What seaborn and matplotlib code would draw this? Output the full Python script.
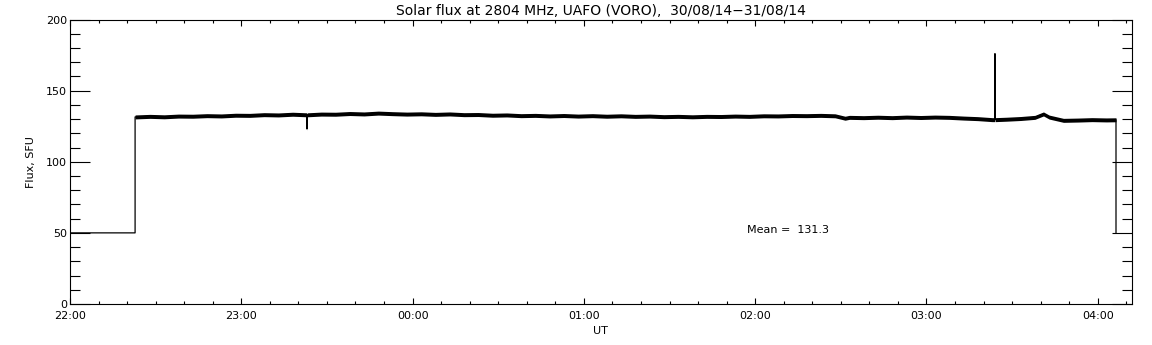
import matplotlib
matplotlib.use("Agg")
import matplotlib.pyplot as plt
from matplotlib.ticker import MultipleLocator, FixedLocator
import pandas as pd
import seaborn as sns

# minutes after 22:00 UT and flux (SFU)
minutes = [0, 22.8, 22.8, 28, 33, 38, 43, 48, 53, 58, 63, 68, 73, 78, 82.9, 83, 83.1,
           88, 93, 98, 103, 108, 113, 118, 123, 128, 133, 138, 143, 148, 153, 158,
           163, 168, 173, 178, 183, 188, 193, 198, 203, 208, 213, 218, 223, 228,
           233, 238, 243, 248, 253, 258, 263, 268, 271.5, 273, 278, 283, 288, 293,
           298, 303, 308, 313, 318, 323, 323.9, 324, 324.1, 328, 333, 338, 341, 343,
           348, 353, 358, 363, 366.4, 366.4]
flux = [50, 50, 131.5, 131.9, 131.6, 132.1, 132.0, 132.4, 132.2, 132.7, 132.6, 133.1,
        132.9, 133.4, 133.0, 123.0, 133.0, 133.5, 133.4, 133.9, 133.6, 134.2, 133.8,
        133.5, 133.7, 133.3, 133.6, 133.1, 133.2, 132.7, 132.9, 132.4, 132.6, 132.2,
        132.5, 132.1, 132.4, 132.0, 132.3, 131.9, 132.1, 131.7, 131.9, 131.6, 131.9,
        131.8, 132.1, 131.9, 132.3, 132.2, 132.5, 132.4, 132.6, 132.3, 130.6, 131.2,
        131.0, 131.3, 131.0, 131.4, 131.1, 131.4, 131.2, 130.7, 130.3, 129.6, 129.6,
        176.0, 129.6, 129.9, 130.4, 131.2, 133.6, 131.4, 129.1, 129.3, 129.6, 129.4,
        129.5, 50]
# half-width of the noisy band around the trace (SFU)
band = 1.4

hour_ticks = [0, 60, 120, 180, 240, 300, 360]
hour_labels = ["22:00", "23:00", "00:00", "01:00", "02:00", "03:00", "04:00"]
mean_value = 131.3
title = "Solar flux at 2804 MHz, UAFO (VORO),  30/08/14\u221231/08/14"

sns.set_style("ticks")
plt.rcParams["font.family"] = ["DejaVu Sans"]
plt.rcParams["text.color"] = "black"
plt.rcParams["axes.labelcolor"] = "black"
plt.rcParams["xtick.color"] = "black"
plt.rcParams["ytick.color"] = "black"

df = pd.DataFrame({"minutes": minutes, "flux": flux})
noisy = df[df["flux"] > 100]

fig = plt.figure(figsize=(11.52, 3.45), dpi=100)
ax = fig.add_axes([70 / 1152, 1 - 304 / 345, (1131.7 - 70) / 1152, (304 - 19.5) / 345])

ax.fill_between(noisy["minutes"], noisy["flux"] - band, noisy["flux"] + band,
                color="black", linewidth=0)
sns.lineplot(data=df, x="minutes", y="flux", ax=ax, color="black", linewidth=0.9,
             estimator=None, sort=False)

ax.set_xlim(0, 371.9)
ax.set_ylim(0, 200)
ax.xaxis.set_major_locator(FixedLocator(hour_ticks))
ax.set_xticklabels(hour_labels)
ax.xaxis.set_minor_locator(MultipleLocator(10))
ax.yaxis.set_major_locator(MultipleLocator(50))
ax.yaxis.set_minor_locator(MultipleLocator(10))

ax.tick_params(axis="x", which="major", direction="in", length=4, width=0.8,
               top=True, bottom=True, labelsize=8, pad=5)
ax.tick_params(axis="x", which="minor", direction="in", length=2, width=0.8,
               top=True, bottom=True)
ax.tick_params(axis="y", which="major", direction="in", length=14.5, width=0.8,
               left=True, right=True, labelsize=8, pad=2)
ax.tick_params(axis="y", which="minor", direction="in", length=7.5, width=0.8,
               left=True, right=True)
for s in ax.spines.values():
    s.set_linewidth(0.8)
    s.set_color("black")

ax.set_xlabel("UT", fontsize=8, labelpad=4)
ax.set_ylabel("Flux, SFU", fontsize=8, labelpad=7)
ax.set_title(title, fontsize=10, pad=3)
ax.text(237, 50, f"Mean =  {mean_value:.1f}", fontsize=8, va="baseline", ha="left")

fig.savefig("out.png", dpi=100)
